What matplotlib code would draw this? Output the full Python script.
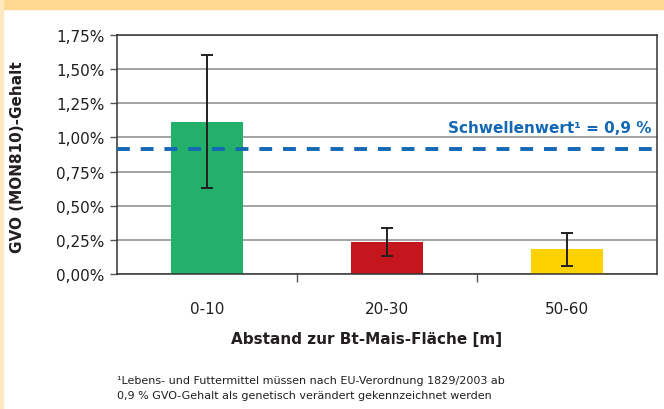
import matplotlib.pyplot as plt
import matplotlib.patches as patches
import numpy as np

categories = ['0-10', '20-30', '50-60']
values = [1.115, 0.235, 0.18]
errors = [0.485, 0.10, 0.12]
colors = ['#22b06a', '#c4161c', '#fed200']
threshold = 0.915
yticks = [0, 0.25, 0.5, 0.75, 1.0, 1.25, 1.5, 1.75]
ytick_labels = ['0,00%', '0,25%', '0,50%', '0,75%', '1,00%', '1,25%', '1,50%', '1,75%']

plt.rcParams['font.family'] = ['DejaVu Sans']

fig = plt.figure(figsize=(6.64, 4.10), dpi=100)
W, H = 664, 410

# orange frame bits
fig.patches.append(patches.Rectangle((0, 1 - 10 / H), 1, 10 / H, transform=fig.transFigure,
                                     color='#fed890', zorder=0))
fig.patches.append(patches.Rectangle((0, 0), 2.5 / W, 1, transform=fig.transFigure,
                                     color='#fde8c0', zorder=0))

ax = fig.add_axes([117 / W, 1 - 275 / H, 540 / W, (275 - 36) / H])
x = np.arange(len(categories))
ax.bar(x, values, width=0.4, color=colors, zorder=2)
ax.errorbar(x, values, yerr=errors, fmt='none', ecolor='#231f20', elinewidth=1.4,
            capsize=4.5, capthick=1.4, zorder=3)
ax.axhline(threshold, color='#1468b4', lw=2.8, ls=(0, (3.3, 2.8)), zorder=4)
ax.text(2.47, 1.02, 'Schwellenwert\u00b9 = 0,9 %', color='#1468b4', fontsize=11,
        fontweight='bold', ha='right', va='bottom', zorder=5)

ax.set_xlim(-0.5, 2.5)
ax.set_ylim(0, 1.75)
ax.set_yticks(yticks)
ax.set_yticklabels(ytick_labels, fontsize=11, color='#231f20')
ax.yaxis.grid(True, color='#8a8a8a', lw=1.1, zorder=1)
ax.set_axisbelow(True)
ax.set_xticks([0.5, 1.5])
ax.set_xticklabels([])
ax.tick_params(axis='x', length=6, width=1, color='#555555', direction='out')
ax.tick_params(axis='y', length=5, width=1, color='#555555', direction='out', pad=4)
for s in ax.spines.values():
    s.set_color('#333333')
    s.set_linewidth(1.1)

for i, c in enumerate(categories):
    ax.text(i, -0.25, c, ha='center', va='center', fontsize=11, color='#231f20')

fig.text(367 / W, 1 - 340 / H, 'Abstand zur Bt-Mais-Fläche [m]', ha='center', va='center',
         fontsize=11, fontweight='bold', color='#231f20')
fig.text(18 / W, 1 - 157 / H, 'GVO (MON810)-Gehalt', ha='center', va='center', rotation=90,
         fontsize=11, fontweight='bold', color='#231f20')

fig.text(117 / W, 1 - 381 / H, '\u00b9Lebens- und Futtermittel müssen nach EU-Verordnung 1829/2003 ab',
         ha='left', va='center', fontsize=8, color='#231f20')
fig.text(117 / W, 1 - 396 / H, '0,9 % GVO-Gehalt als genetisch verändert gekennzeichnet werden',
         ha='left', va='center', fontsize=8, color='#231f20')

fig.savefig('out.png', dpi=100)
